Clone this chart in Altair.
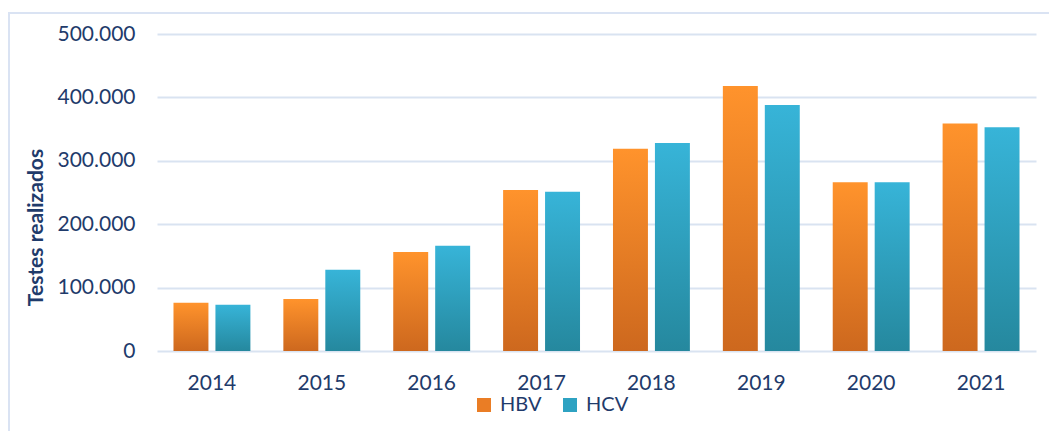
import altair as alt
import pandas as pd

years = ["2014", "2015", "2016", "2017", "2018", "2019", "2020", "2021"]
hbv = [76000, 82000, 156000, 254000, 319000, 418000, 266000, 359000]
hcv = [73000, 128000, 166000, 251000, 328000, 388000, 266000, 353000]
series = ["HBV", "HCV"]

rows = []
for i, y in enumerate(years):
    rows.append({"ano": y, "serie": "HBV", "valor": hbv[i]})
    rows.append({"ano": y, "serie": "HCV", "valor": hcv[i]})
df = pd.DataFrame(rows)

TXT = "#1f3b6b"
FONT = "Lato"

grad_orange = {"gradient": "linear", "x1": 0, "y1": 0, "x2": 0, "y2": 1,
               "stops": [{"offset": 0, "color": "#ff932c"}, {"offset": 1, "color": "#cd681e"}]}
grad_blue = {"gradient": "linear", "x1": 0, "y1": 0, "x2": 0, "y2": 1,
             "stops": [{"offset": 0, "color": "#37b4d8"}, {"offset": 1, "color": "#25889e"}]}

x_axis = alt.Axis(labelAngle=0, labelFont=FONT, labelFontSize=21, labelColor=TXT,
                  labelPadding=21, ticks=False, domain=False, grid=False)
y_axis = alt.Axis(values=[0, 100000, 200000, 300000, 400000, 500000],
                  labelExpr="replace(format(datum.value, ','), ',', '.')",
                  labelFont=FONT, labelFontSize=21, labelColor=TXT, labelPadding=22,
                  ticks=False, domain=False, grid=True, gridColor="#d9e3f1", gridWidth=2,
                  titleFont=FONT, titleFontSize=21, titleFontWeight="bold", titleColor=TXT,
                  titleAngle=-90, titleX=-121, titleY=193, titleBaseline="middle",
                  titleAlign="center")

x_enc = alt.X("ano:N", sort=years, title=None,
              scale=alt.Scale(paddingInner=0.3, paddingOuter=0.15), axis=x_axis)
xo_enc = alt.XOffset("serie:N", sort=series,
                     scale=alt.Scale(paddingInner=0.1667, paddingOuter=0))
y_enc = alt.Y("valor:Q", title="Testes realizados",
              scale=alt.Scale(domain=[0, 500000]), axis=y_axis)

base = alt.Chart(df)

bars = base.mark_bar(cornerRadius=0).encode(
    x=x_enc, xOffset=xo_enc, y=y_enc,
    fill=alt.condition("datum.serie === 'HBV'", alt.value(grad_orange), alt.value(grad_blue)),
)

legend_layer = base.mark_square(opacity=0, size=10).encode(
    x=x_enc, xOffset=xo_enc, y=y_enc,
    color=alt.Color("serie:N", sort=series,
                    scale=alt.Scale(domain=series, range=["#ea7d25", "#2ea2c2"]),
                    legend=alt.Legend(title=None, orient="none", direction="horizontal",
                                      legendX=317, legendY=361, padding=0,
                                      symbolType="square", symbolSize=196, symbolOpacity=1,
                                      symbolStrokeWidth=0, labelFont=FONT, labelFontSize=20,
                                      labelColor=TXT, labelOffset=6, columnPadding=18)),
)

frame = alt.Chart(pd.DataFrame({"a": [0]})).mark_rect(
    fill=None, stroke="#dae3f3", strokeWidth=2
).encode(x=alt.value(-148), x2=alt.value(905), y=alt.value(-21), y2=alt.value(430))

chart = alt.layer(frame, bars, legend_layer).properties(
    width=879, height=317,
    autosize=alt.AutoSizeParams(type="none"),
    padding={"left": 149, "top": 26, "right": 13, "bottom": 80},
).configure(background="white").configure_view(strokeWidth=0, stroke="transparent").configure_axisX(grid=False)

chart.save("out.html", embed_options={"renderer": "svg", "actions": False})
